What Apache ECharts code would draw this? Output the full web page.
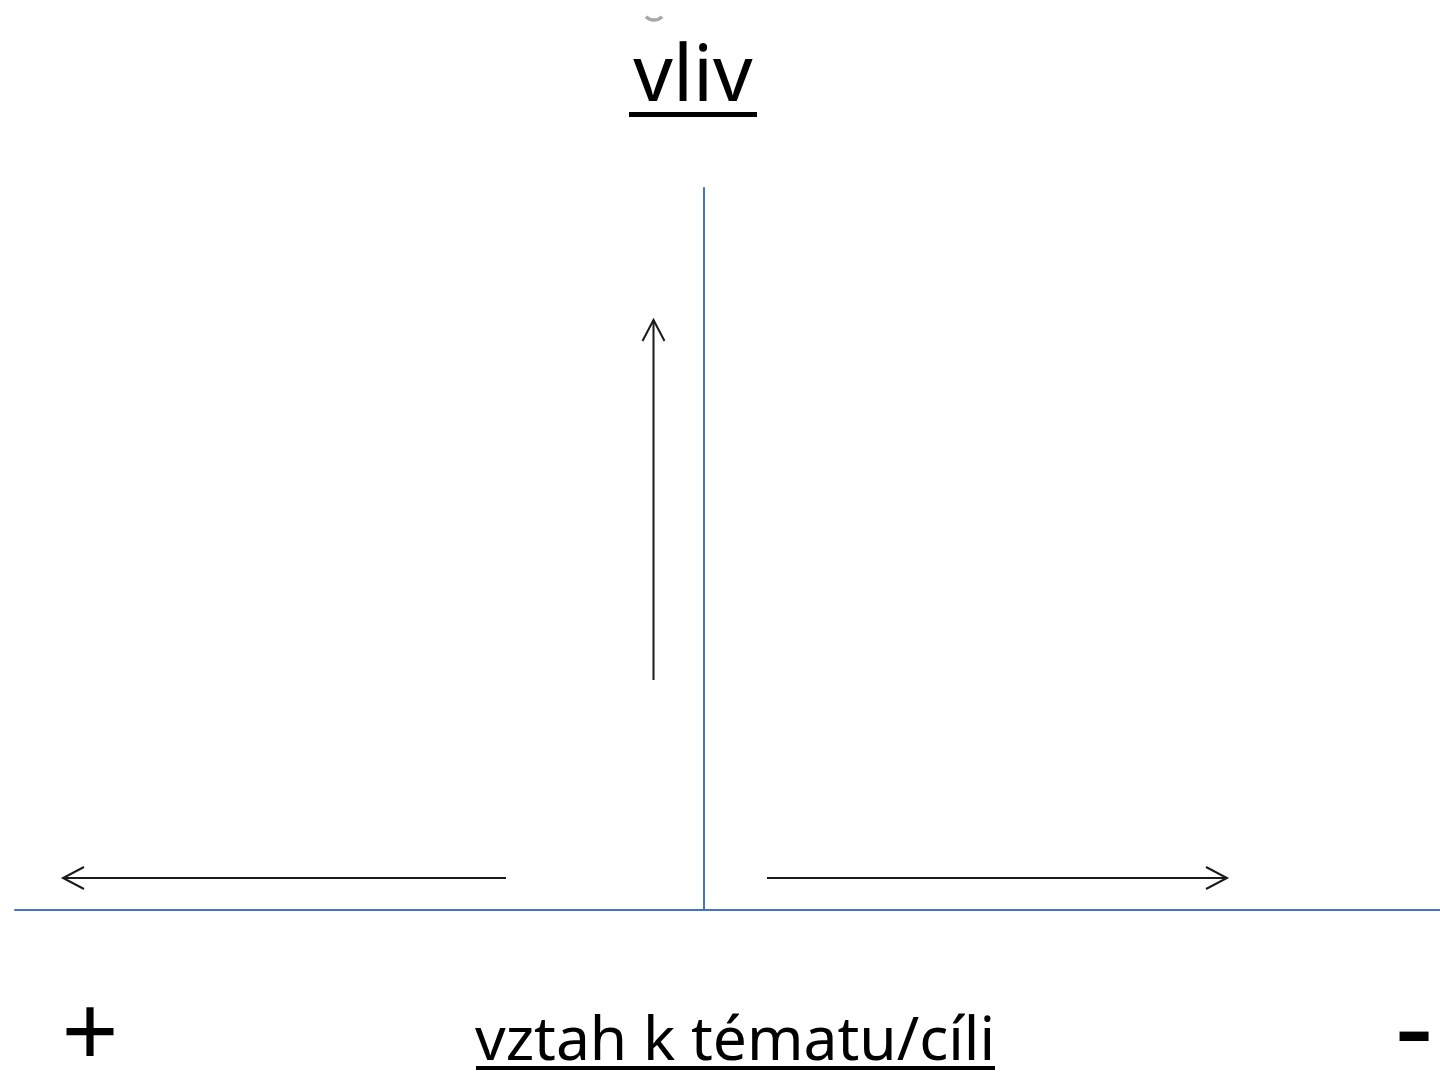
<!DOCTYPE html>
<html>
<head>
<meta charset="utf-8">
<script src="https://cdn.jsdelivr.net/npm/echarts@6/dist/echarts.min.js"></script>
<style>
html,body{margin:0;padding:0;background:#fff;}
#chart{width:1440px;height:1074px;}
</style>
</head>
<body>
<div id="chart"></div>
<script>
// Diagram axes (arbitrary units; origin = crossing of the blue lines)
const xRange = [-6.89, 7.36];
const yRange = [0, 7.22];
// Arrows: start point and tip point
const arrowFrom = [[-0.505, 2.30], [-1.98, 0.32], [0.63, 0.32]];
const arrowTo   = [[-0.505, 5.90], [-6.41, 0.32], [5.23, 0.32]];
// Texts
const titleText = 'vliv';
const axisText = 'vztah k tématu/cíli';
const plusText = '+';
const minusText = '-';

const arrowData = arrowFrom.map((f, i) => [f[0], f[1], arrowTo[i][0], arrowTo[i][1]]);

const chart = echarts.init(document.getElementById('chart'), null, {renderer: 'canvas'});
const blue = '#4472C4';
const ink = '#1a1a1a';
const font = '"Noto Sans", "Open Sans", sans-serif';

chart.setOption({
  animation: false,
  backgroundColor: '#fff',
  grid: {left: 15, right: 0, top: 188, bottom: 164},
  xAxis: {
    type: 'value', min: xRange[0], max: xRange[1],
    axisLine: {show: true, onZero: true, lineStyle: {color: blue, width: 2}},
    axisTick: {show: false}, axisLabel: {show: false}, splitLine: {show: false}
  },
  yAxis: {
    type: 'value', min: yRange[0], max: yRange[1],
    axisLine: {show: true, onZero: true, lineStyle: {color: blue, width: 2}},
    axisTick: {show: false}, axisLabel: {show: false}, splitLine: {show: false}
  },
  series: [{
    type: 'custom',
    coordinateSystem: 'cartesian2d',
    encode: {x: [0, 2], y: [1, 3]},
    data: arrowData,
    renderItem: function (params, api) {
      const p1 = api.coord([api.value(0), api.value(1)]);
      const p2 = api.coord([api.value(2), api.value(3)]);
      const ang = Math.atan2(p2[1] - p1[1], p2[0] - p1[0]);
      const L = 21, W = 11;
      const cx = Math.cos(ang), sy = Math.sin(ang);
      const bx = p2[0] - L * cx, by = p2[1] - L * sy;
      const a1 = [bx - W * sy, by + W * cx];
      const a2 = [bx + W * sy, by - W * cx];
      return {
        type: 'group',
        children: [
          {type: 'line', shape: {x1: p1[0], y1: p1[1], x2: p2[0], y2: p2[1]},
           style: {stroke: ink, lineWidth: 2}},
          {type: 'polyline', shape: {points: [a1, p2, a2]},
           style: {stroke: ink, lineWidth: 2, fill: null}}
        ]
      };
    }
  }],
  graphic: [
    {type: 'arc', shape: {cx: 654, cy: 8, r: 12, startAngle: Math.PI / 2 - 0.75, endAngle: Math.PI / 2 + 0.75},
     style: {stroke: '#a8a8a8', lineWidth: 3.5, fill: null}},
    {type: 'text', x: 693, y: 40, style: {text: titleText, font: '78px ' + font, fill: '#000',
      textAlign: 'center', textVerticalAlign: 'top', verticalAlign: 'top'}},
    {type: 'rect', shape: {x: 629, y: 112, width: 128, height: 5}, style: {fill: '#000'}},
    {type: 'text', x: 735, y: 1012, style: {text: axisText, font: '60.5px ' + font, fill: '#000',
      textAlign: 'center', textVerticalAlign: 'top', verticalAlign: 'top'}},
    {type: 'rect', shape: {x: 476, y: 1066, width: 519, height: 4}, style: {fill: '#000'}},
    {type: 'text', x: 90, y: 1039, style: {text: plusText, font: '100px ' + font, fill: '#000',
      textAlign: 'center', textVerticalAlign: 'middle', verticalAlign: 'middle'}},
    {type: 'text', x: 1414, y: 1035, style: {text: minusText, font: '120px ' + font, fill: '#000',
      textAlign: 'center', textVerticalAlign: 'middle', verticalAlign: 'middle'}}
  ]
});
</script>
</body>
</html>
